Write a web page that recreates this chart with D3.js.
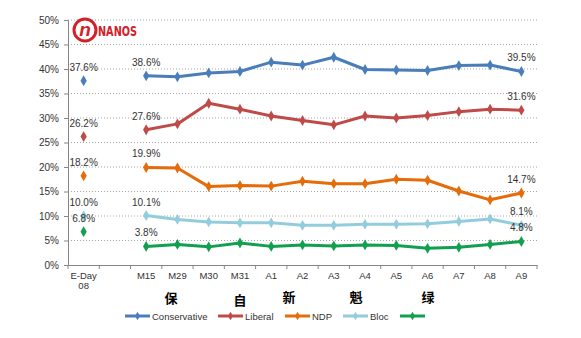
<!DOCTYPE html>
<html>
<head>
<meta charset="utf-8">
<script src="https://cdn.jsdelivr.net/npm/d3@7"></script>
<style>
  body { margin: 0; background: #fff; }
  svg { display: block; font-family: "Liberation Sans", Arial, sans-serif; }
</style>
</head>
<body>
<div id="chart"></div>
<script>
// data
const categories = ['E-Day|08', '', 'M15', 'M29', 'M30', 'M31', 'A1', 'A2', 'A3', 'A4', 'A5', 'A6', 'A7', 'A8', 'A9'];
const campaignDates = categories.slice(2);
const parties = ['Conservative', 'Liberal', 'NDP', 'Bloc', ''];
const colors = ['#4A7EBB', '#BE4B48', '#E46C0A', '#93CDDD', '#10A050'];
const eDay = [37.6, 26.2, 18.2, 10.0, 6.8];
const conservative = [38.6, 38.4, 39.2, 39.5, 41.4, 40.8, 42.4, 39.9, 39.8, 39.7, 40.7, 40.8, 39.5];
const liberal = [27.6, 28.8, 33.0, 31.8, 30.4, 29.5, 28.6, 30.4, 30.0, 30.5, 31.3, 31.8, 31.6];
const ndp = [19.9, 19.8, 16.0, 16.2, 16.1, 17.1, 16.6, 16.6, 17.5, 17.3, 15.1, 13.3, 14.7];
const bloc = [10.1, 9.3, 8.8, 8.6, 8.6, 8.1, 8.1, 8.3, 8.3, 8.4, 8.9, 9.4, 8.1];
const green = [3.8, 4.2, 3.7, 4.5, 3.8, 4.1, 3.9, 4.1, 4.0, 3.4, 3.6, 4.2, 4.8];
const yTicks = [0, 5, 10, 15, 20, 25, 30, 35, 40, 45, 50];
const notes = ['保', '自', '新', '魁', '绿'];

const series = [conservative, liberal, ndp, bloc, green];

const width = 581, height = 338;
const margin = { top: 20, right: 44, bottom: 73, left: 68 };

const svg = d3.select('#chart').append('svg')
  .attr('width', width)
  .attr('height', height);

const x = d3.scaleBand().domain(categories).range([margin.left, width - margin.right]);
const y = d3.scaleLinear().domain([0, 50]).range([height - margin.bottom, margin.top]);
const cx = c => x(c) + x.bandwidth() / 2;

// gridlines
svg.append('g').selectAll('line').data(yTicks.filter(t => t > 0)).enter().append('line')
  .attr('x1', margin.left).attr('x2', width - margin.right)
  .attr('y1', d => y(d)).attr('y2', d => y(d))
  .attr('stroke', '#a6a6a6').attr('stroke-width', 1)
  .attr('stroke-dasharray', '1,2');

// y axis
const yAxis = svg.append('g')
  .attr('transform', `translate(${margin.left},0)`)
  .call(d3.axisLeft(y).tickValues(yTicks).tickFormat(d => d + '%').tickSize(4).tickPadding(5));
yAxis.select('.domain').attr('stroke', '#868686');
yAxis.selectAll('.tick line').attr('stroke', '#868686');
yAxis.selectAll('text').attr('font-size', 10).attr('fill', '#333')
  .attr('font-family', '"Liberation Sans", Arial, sans-serif');

// x axis
const xAxis = svg.append('g')
  .attr('transform', `translate(0,${y(0)})`)
  .call(d3.axisBottom(x).tickSize(0).tickFormat(''));
xAxis.select('.domain').attr('stroke', '#868686');
xAxis.selectAll('.tick').remove();
svg.append('g').selectAll('line').data(d3.range(categories.length + 1)).enter().append('line')
  .attr('x1', i => margin.left + i * x.bandwidth())
  .attr('x2', i => margin.left + i * x.bandwidth())
  .attr('y1', y(0)).attr('y2', y(0) + 4)
  .attr('stroke', '#868686');

const xLabels = svg.append('g').selectAll('text').data(categories).enter().append('text')
  .attr('x', d => cx(d))
  .attr('y', y(0) + 14)
  .attr('text-anchor', 'middle')
  .attr('font-size', 9.5)
  .attr('fill', '#333');
xLabels.each(function (d) {
  const parts = d.split('|');
  d3.select(this).selectAll('tspan').data(parts).enter().append('tspan')
    .attr('x', cx(d))
    .attr('dy', (p, i) => i === 0 ? 0 : 10)
    .text(p => p);
});

// lines
const diamond = d3.symbol().type(d3.symbolDiamond).size(34);
const line = d3.line().x((d, i) => cx(campaignDates[i])).y(d => y(d));

series.forEach((vals, k) => {
  svg.append('path').datum(vals)
    .attr('d', line)
    .attr('fill', 'none')
    .attr('stroke', colors[k])
    .attr('stroke-width', 3)
    .attr('stroke-linejoin', 'round');
  svg.append('g').selectAll('path').data(vals).enter().append('path')
    .attr('d', diamond)
    .attr('transform', (d, i) => `translate(${cx(campaignDates[i])},${y(d)})`)
    .attr('fill', colors[k]);
  svg.append('path')
    .attr('d', diamond)
    .attr('transform', `translate(${cx(categories[0])},${y(eDay[k])})`)
    .attr('fill', colors[k]);
});

// data labels
const fmt = v => v.toFixed(1) + '%';
const labelSets = [];
series.forEach((vals, k) => {
  labelSets.push({ c: categories[0], v: eDay[k] });
  if (k < 4) labelSets.push({ c: campaignDates[0], v: vals[0] });
  labelSets.push({ c: campaignDates[campaignDates.length - 1], v: vals[vals.length - 1] });
});
labelSets.push({ c: campaignDates[0], v: green[0] });
svg.append('g').selectAll('text').data(labelSets).enter().append('text')
  .attr('x', d => cx(d.c))
  .attr('y', d => y(d.v) - 10)
  .attr('text-anchor', 'middle')
  .attr('font-size', 10)
  .attr('fill', '#333')
  .text(d => fmt(d.v));

// chinese notes under the axis
const noteX = [171, 240, 289, 356, 428];
const noteY = [298, 300, 297, 297, 297];
svg.append('g').selectAll('text').data(notes).enter().append('text')
  .attr('x', (d, i) => noteX[i])
  .attr('y', (d, i) => noteY[i] + 5)
  .attr('text-anchor', 'middle')
  .attr('font-size', 13)
  .attr('font-weight', 'bold')
  .attr('font-family', '"Noto Sans CJK SC", sans-serif')
  .attr('fill', '#000')
  .text(d => d);

// legend
const legendX = [125, 218, 285, 343, 400];
const legend = svg.append('g').selectAll('g').data(parties).enter().append('g')
  .attr('transform', (d, i) => `translate(${legendX[i]},316)`);
legend.append('line')
  .attr('x1', 0).attr('x2', 25)
  .attr('stroke', (d, i) => colors[i]).attr('stroke-width', 3);
legend.append('path')
  .attr('d', d3.symbol().type(d3.symbolDiamond).size(22))
  .attr('transform', 'translate(12.5,0)')
  .attr('fill', (d, i) => colors[i]);
legend.append('text')
  .attr('x', 27).attr('y', 3.5)
  .attr('font-size', 9.5)
  .attr('fill', '#333')
  .text(d => d);

// logo
const logo = svg.append('g').attr('transform', 'translate(85,30)');
logo.append('circle').attr('r', 11).attr('fill', 'none').attr('stroke', '#D4202A').attr('stroke-width', 3);
logo.append('text')
  .attr('x', 0).attr('y', 6)
  .attr('text-anchor', 'middle')
  .attr('font-size', 19).attr('font-weight', 'bold').attr('font-style', 'italic')
  .attr('fill', '#D4202A')
  .text('n');
logo.append('text')
  .attr('x', 13).attr('y', 5.5)
  .attr('font-size', 14).attr('font-weight', 'bold')
  .attr('textLength', 39).attr('lengthAdjust', 'spacingAndGlyphs')
  .attr('font-family', '"DejaVu Sans Condensed", "Liberation Sans Narrow", sans-serif')
  .attr('fill', '#D4202A')
  .text('NANOS');
</script>
</body>
</html>
